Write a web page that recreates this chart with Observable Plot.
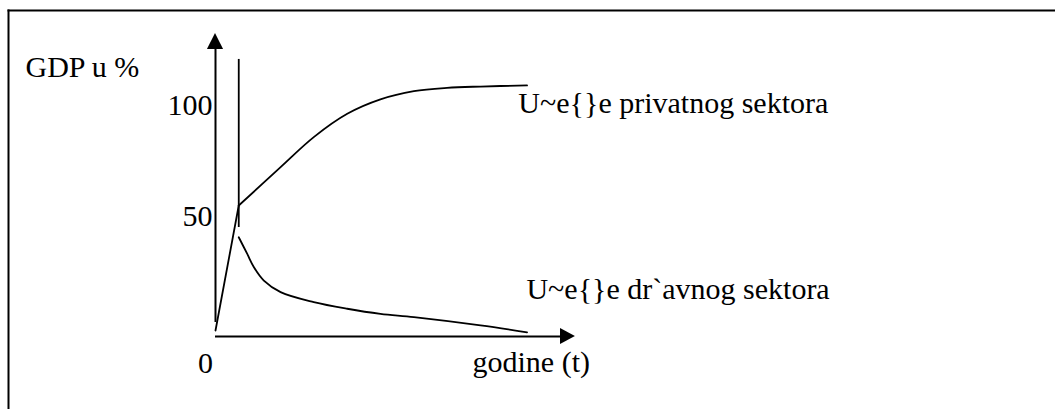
<!DOCTYPE html>
<html>
<head>
<meta charset="utf-8">
<script src="https://cdn.jsdelivr.net/npm/d3@7"></script>
<script src="https://cdn.jsdelivr.net/npm/@observablehq/plot@0.6"></script>
<style>
  html, body { margin: 0; padding: 0; background: #fff; }
  #chart svg { display: block; }
  #chart svg text { font-family: "Liberation Serif", "Times New Roman", serif; }
</style>
</head>
<body>
<div id="chart"></div>
<script>
// time (arbitrary units) and GDP share (%)
const privRiseT = [0, 7.5];
const privRiseV = [2.7, 59.0];
const privT = [7.5, 21, 31.7, 42.5, 53.2, 64, 74.7, 85.5, 100.5];
const privV = [59.0, 76.3, 89.8, 100.3, 106.8, 110.5, 112.0, 112.6, 113.1];
const stateT = [7.5, 10.2, 12.4, 15.6, 21, 31.7, 42.5, 53.2, 64, 85.5, 100.5];
const stateV = [44.7, 37.3, 31.2, 25.2, 20.0, 15.5, 12.5, 10.2, 8.7, 5.0, 1.9];
const transitionT = 7.5;
const transitionRange = [49.1, 124.8];
const yAxisRange = [6.3, 129.3];
const xAxisRange = [0, 111.3];
const yTicks = [50, 100];
const yTickLabels = ["50", "100"];
const xZeroLabel = "0";
const yTitle = "GDP u %";
const xTitle = "godine (t)";
const seriesLabels = ["U~e{}e privatnog sektora", "U~e{}e dr`avnog sektora"];
const seriesLabelPos = [[97.7, 100.5], [100.3, 17.1]];
const yTitlePos = [-61.3, 116.7];
const xTitlePos = [82.9, 0];
// arrowheads (axis ends)
const yArrow = [{y: 129.3, x1: -2.6, x2: 2.6}, {y: 136.5, x1: 0, x2: 0}];
const xArrow = [{x: 111.3, y1: -3.6, y2: 3.6}, {x: 116.1, y1: 0, y2: 0}];

const zip = (a, b) => a.map((d, i) => ({t: d, v: b[i]}));
const font = "Liberation Serif";
const txt = {lineAnchor: "bottom", fontSize: 30, fontFamily: font, fill: "#000"};

const chart = Plot.plot({
  width: 1055,
  height: 409,
  marginTop: 10,
  marginLeft: 8,
  marginRight: 0,
  marginBottom: 0,
  style: {background: "#fff", color: "#000"},
  x: {domain: [0, 100], range: [215, 525], axis: null},
  y: {domain: [0, 100], range: [336, 114], axis: null},
  marks: [
    Plot.frame({anchor: "top", stroke: "#000", strokeWidth: 2}),
    Plot.frame({anchor: "left", stroke: "#000", strokeWidth: 2}),
    // axes
    Plot.ruleX([0], {y1: yAxisRange[0], y2: yAxisRange[1], stroke: "#000", strokeWidth: 2}),
    Plot.ruleY([0], {x1: xAxisRange[0], x2: xAxisRange[1], stroke: "#000", strokeWidth: 2}),
    Plot.areaX(yArrow, {y: "y", x1: "x1", x2: "x2", fill: "#000"}),
    Plot.areaY(xArrow, {x: "x", y1: "y1", y2: "y2", fill: "#000"}),
    // transition marker
    Plot.ruleX([transitionT], {y1: transitionRange[0], y2: transitionRange[1], stroke: "#000", strokeWidth: 1.8}),
    // private sector
    Plot.line(zip(privRiseT, privRiseV), {x: "t", y: "v", stroke: "#000", strokeWidth: 1.8}),
    Plot.line(zip(privT, privV), {x: "t", y: "v", stroke: "#000", strokeWidth: 1.8, curve: "catmull-rom"}),
    // state sector
    Plot.line(zip(stateT, stateV), {x: "t", y: "v", stroke: "#000", strokeWidth: 1.8, curve: "catmull-rom"}),
    // tick labels
    Plot.text(yTicks, {...txt, x: 0, y: d => d, text: (d, i) => yTickLabels[i], textAnchor: "end", dx: -3}),
    Plot.text([0], {...txt, x: -3.2, y: 0, text: () => xZeroLabel, textAnchor: "middle", dy: 36}),
    // titles
    Plot.text([yTitle], {...txt, x: yTitlePos[0], y: yTitlePos[1], text: d => d, textAnchor: "start"}),
    Plot.text([xTitle], {...txt, x: xTitlePos[0], y: xTitlePos[1], text: d => d, textAnchor: "start", dy: 35}),
    Plot.text(seriesLabels, {...txt, x: (d, i) => seriesLabelPos[i][0], y: (d, i) => seriesLabelPos[i][1], text: d => d, textAnchor: "start"})
  ]
});
document.getElementById("chart").appendChild(chart);
</script>
</body>
</html>
